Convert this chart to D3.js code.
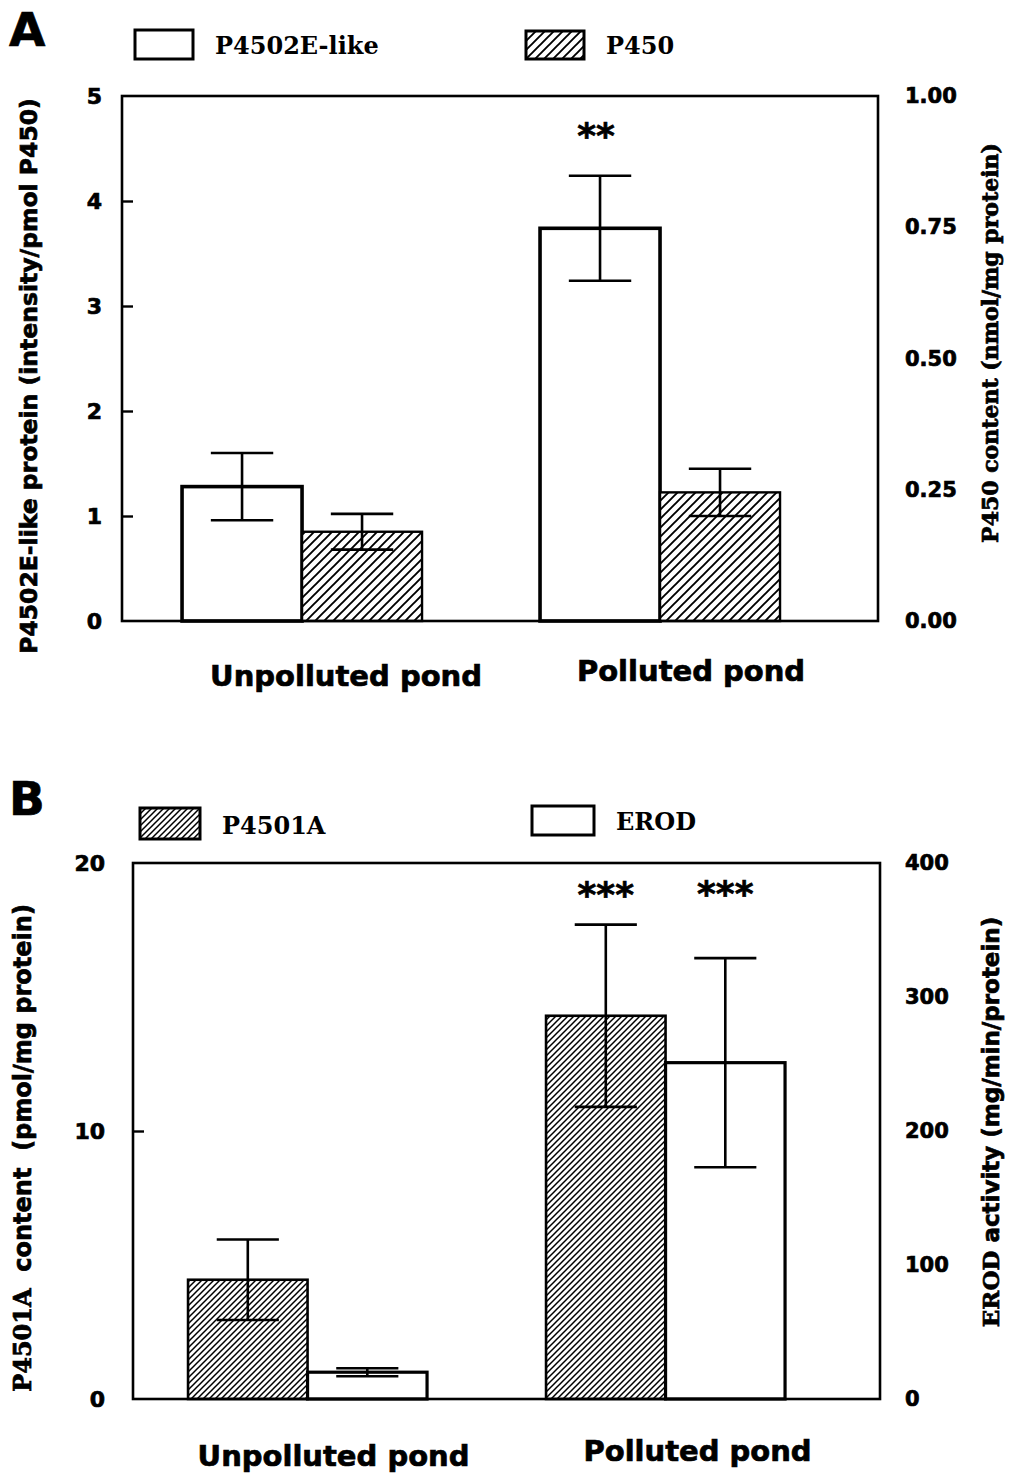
<!DOCTYPE html>
<html>
<head>
<meta charset="utf-8">
<script src="https://cdn.jsdelivr.net/npm/d3@7"></script>
<style>
  body { margin: 0; background: #fff; }
  svg { display: block; }
  .heavy { stroke: #000; stroke-width: 0.7px; paint-order: stroke; }
</style>
</head>
<body>
<svg id="chart" width="1010" height="1475"></svg>
<script>
// ---------- data ----------
const categories = ["Unpolluted pond", "Polluted pond"];

// Panel A: P4502E-like protein (left axis) and total P450 (right axis)
const p4502eMean = [1.28, 3.74];
const p4502eSE   = [0.32, 0.50];
const p450Mean   = [0.170, 0.245];
const p450SE     = [0.034, 0.045];
const sigP4502e  = ["", "**"];
const ticksALeft  = [0, 1, 2, 3, 4, 5];
const ticksARight = [0, 0.25, 0.5, 0.75, 1.0];

// Panel B: P4501A content (left axis) and EROD activity (right axis)
const p4501aMean = [4.45, 14.3];
const p4501aSE   = [1.5, 3.4];
const erodMean   = [20, 251];
const erodSE     = [3, 78];
const sigP4501a  = ["", "***"];
const sigErod    = ["", "***"];
const ticksBLeft  = [0, 10, 20];
const ticksBRight = [0, 100, 200, 300, 400];

// ---------- styling ----------
const SANS  = "'DejaVu Sans', sans-serif";
const SERIF = "'DejaVu Serif', serif";

const svg = d3.select("#chart");
const defs = svg.append("defs");

function hatch(id, gap, width) {
  const p = defs.append("pattern")
    .attr("id", id).attr("patternUnits", "userSpaceOnUse")
    .attr("width", gap).attr("height", gap);
  p.append("rect").attr("width", gap).attr("height", gap).attr("fill", "#fff");
  p.append("path")
    .attr("d", `M${-gap/2},${gap/2} l${gap},${-gap} M0,${gap} l${gap},${-gap} M${gap/2},${gap*1.5} l${gap},${-gap}`)
    .attr("stroke", "#000").attr("stroke-width", width);
}
hatch("hatchA", 9, 1.9);
hatch("hatchB", 6, 1.5);

function panel(cfg) {
  const g = svg.append("g");
  const { l, r, t, b } = cfg.frame;

  const x = d3.scaleBand().domain(categories).range([l, r])
    .paddingInner(cfg.padInner).paddingOuter(cfg.padOuter).align(cfg.align);
  const xs = d3.scaleBand().domain(d3.range(cfg.series.length)).range([0, x.bandwidth()]);
  const yL = d3.scaleLinear().domain(cfg.leftDomain).range([b, t]);
  const yR = d3.scaleLinear().domain(cfg.rightDomain).range([b, t]);

  // bars
  cfg.series.forEach((s, si) => {
    const y = s.axis === "left" ? yL : yR;
    const gs = g.append("g");
    categories.forEach((c, ci) => {
      const x0 = x(c) + xs(si);
      const w = xs.bandwidth();
      gs.append("rect")
        .attr("x", x0).attr("y", y(s.mean[ci]))
        .attr("width", w).attr("height", b - y(s.mean[ci]))
        .attr("fill", s.fill).attr("stroke", "#000").attr("stroke-width", s.stroke);
    });
  });

  // error bars and significance marks
  cfg.series.forEach((s, si) => {
    const y = s.axis === "left" ? yL : yR;
    categories.forEach((c, ci) => {
      const cx = x(c) + xs(si) + xs.bandwidth() / 2;
      const cap = xs.bandwidth() * 0.26;
      const hi = y(s.mean[ci] + s.se[ci]);
      const lo = y(s.mean[ci] - s.se[ci]);
      g.append("path")
        .attr("d", `M${cx},${hi}V${lo}M${cx - cap},${hi}H${cx + cap}M${cx - cap},${lo}H${cx + cap}`)
        .attr("fill", "none").attr("stroke", "#000").attr("stroke-width", 2.6);
      if (s.sig[ci]) {
        g.append("text").attr("class", "heavy")
          .attr("x", cx + (s.sigDx || 0)).attr("y", hi - cfg.sigGap[si])
          .attr("text-anchor", "middle")
          .attr("font-family", SANS).attr("font-weight", "bold").attr("font-size", 36)
          .text(s.sig[ci]);
      }
    });
  });

  // frame
  g.append("rect").attr("x", l).attr("y", t).attr("width", r - l).attr("height", b - t)
    .attr("fill", "none").attr("stroke", "#000").attr("stroke-width", 2.6);

  // left axis: inward ticks
  const axL = d3.axisLeft(yL).tickValues(cfg.leftTicks).tickSize(-11)
    .tickPadding(cfg.leftPad).tickFormat(cfg.leftFormat);
  const gL = g.append("g").attr("transform", `translate(${l},0)`).call(axL);
  gL.select(".domain").remove();
  gL.selectAll(".tick line").attr("stroke-width", 2.4)
    .attr("display", d => (cfg.leftTickMarks.includes(d) ? null : "none"));
  gL.selectAll(".tick text").attr("class", "heavy").attr("font-family", SANS).attr("font-weight", "bold")
    .attr("font-size", 22).attr("fill", "#000");

  // right axis: labels only
  const axR = d3.axisRight(yR).tickValues(cfg.rightTicks).tickSize(0)
    .tickPadding(cfg.rightPad).tickFormat(cfg.rightFormat);
  const gR = g.append("g").attr("transform", `translate(${r},0)`).call(axR);
  gR.select(".domain").remove();
  gR.selectAll(".tick text").attr("class", "heavy").attr("font-family", SANS).attr("font-weight", "bold")
    .attr("font-size", 21).attr("fill", "#000");

  // category labels
  categories.forEach((c, ci) => {
    g.append("text").attr("class", "heavy")
      .attr("x", x(c) + x.bandwidth() / 2 + cfg.catDx[ci])
      .attr("y", cfg.catY[ci])
      .attr("text-anchor", "middle")
      .attr("font-family", SANS).attr("font-weight", "bold").attr("font-size", 29)
      .text(c);
  });

  // axis titles
  function title(pos, parts) {
    const tx = g.append("text").attr("class", "heavy")
      .attr("transform", `translate(${pos[0]},${pos[1]}) rotate(-90)`)
      .attr("text-anchor", "middle").attr("font-weight", "bold");
    parts.forEach(p => tx.append("tspan").attr("font-family", p.f)
      .attr("font-size", p.s).text(p.t));
  }
  title(cfg.leftTitlePos, cfg.leftTitle);
  title(cfg.rightTitlePos, cfg.rightTitle);

  // panel letter
  g.append("text").attr("class", "heavy").attr("x", cfg.letterPos[0]).attr("y", cfg.letterPos[1])
    .attr("font-family", SANS).attr("font-weight", "bold").attr("font-size", 47)
    .text(cfg.letter);

  // legend
  cfg.legend.forEach(it => {
    g.append("rect").attr("x", it.x).attr("y", it.y).attr("width", it.w).attr("height", it.h)
      .attr("fill", it.fill).attr("stroke", "#000").attr("stroke-width", 3);
    g.append("text").attr("x", it.x + it.w + 22).attr("y", it.y + it.h - 5)
      .attr("font-family", SERIF).attr("font-weight", "bold").attr("font-size", 24)
      .text(it.label);
  });
}

const fmt2 = d3.format(".2f");

panel({
  letter: "A", letterPos: [9, 46],
  frame: { l: 122, r: 878, t: 96, b: 621 },
  padInner: 0.3296, padOuter: 0.2207, align: 0.38,
  leftDomain: [0, 5], rightDomain: [0, 1],
  leftTicks: ticksALeft, leftTickMarks: [1, 2, 3, 4], leftPad: 20, leftFormat: d3.format("d"),
  rightTicks: ticksARight, rightPad: 27, rightFormat: fmt2,
  sigGap: [28, 28],
  series: [
    { mean: p4502eMean, se: p4502eSE, sig: sigP4502e, axis: "left", fill: "#fff", stroke: 3.6, sigDx: -4 },
    { mean: p450Mean, se: p450SE, sig: ["", ""], axis: "right", fill: "url(#hatchA)", stroke: 2.4 }
  ],
  catDx: [44, 31], catY: [686, 681],
  leftTitlePos: [37, 376],
  leftTitle: [{ f: SANS, s: 23.5, t: "P4502E-like protein (intensity/pmol P450)" }],
  rightTitlePos: [998, 343],
  rightTitle: [{ f: SERIF, s: 22, t: "P450 content (nmol/mg protein)" }],
  legend: [
    { x: 135, y: 30, w: 58, h: 29, fill: "#fff", label: "P4502E-like" },
    { x: 526, y: 31, w: 58, h: 28, fill: "url(#hatchA)", label: "P450" }
  ]
});

panel({
  letter: "B", letterPos: [9, 815],
  frame: { l: 133, r: 880, t: 863, b: 1399 },
  padInner: 0.3324, padOuter: 0.2095, align: 0.367,
  leftDomain: [0, 20], rightDomain: [0, 400],
  leftTicks: ticksBLeft, leftTickMarks: [10], leftPad: 28, leftFormat: d3.format("d"),
  rightTicks: ticksBRight, rightPad: 25, rightFormat: d3.format("d"),
  sigGap: [18, 52],
  series: [
    { mean: p4501aMean, se: p4501aSE, sig: sigP4501a, axis: "left", fill: "url(#hatchB)", stroke: 2.6 },
    { mean: erodMean, se: erodSE, sig: sigErod, axis: "right", fill: "#fff", stroke: 3.2 }
  ],
  catDx: [26, 32], catY: [1466, 1461],
  leftTitlePos: [31, 1148],
  leftTitle: [{ f: SERIF, s: 24, t: "P4501A" }, { f: SANS, s: 24, t: "\u00a0 content \u00a0(pmol/mg protein)" }],
  rightTitlePos: [999, 1122],
  rightTitle: [{ f: SERIF, s: 23, t: "EROD" }, { f: SANS, s: 23, t: " activity (mg/min/protein)" }],
  legend: [
    { x: 140, y: 808, w: 60, h: 31, fill: "url(#hatchB)", label: "P4501A" },
    { x: 532, y: 806, w: 62, h: 29, fill: "#fff", label: "EROD" }
  ]
});
</script>
</body>
</html>
